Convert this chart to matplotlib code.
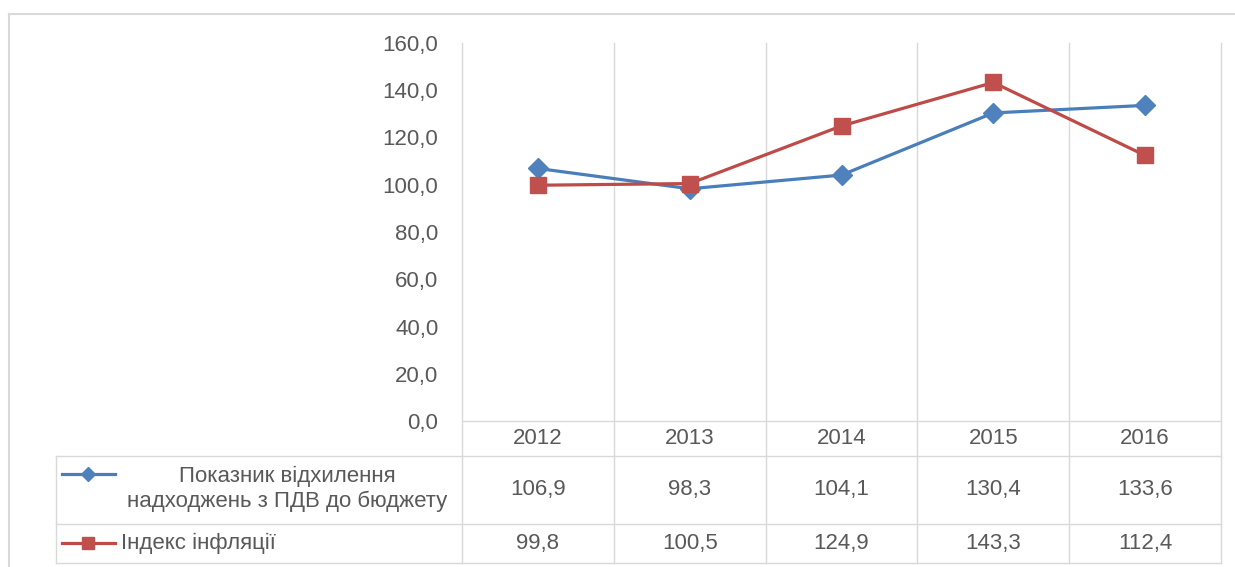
import matplotlib.pyplot as plt
from matplotlib.lines import Line2D
from matplotlib.transforms import blended_transform_factory

plt.rcParams['font.family'] = ['Liberation Sans Narrow', 'Liberation Sans', 'DejaVu Sans']

years = ['2012', '2013', '2014', '2015', '2016']
vat_deviation = [106.9, 98.3, 104.1, 130.4, 133.6]
inflation_index = [99.8, 100.5, 124.9, 143.3, 112.4]
vat_label = 'Показник відхилення\nнадходжень з ПДВ до бюджету'
inflation_label = 'Індекс інфляції'
yticks = [0, 20, 40, 60, 80, 100, 120, 140, 160]

W, H = 1235, 567
blue = '#4A7EBB'
red = '#BE4B48'
grid_c = '#D9D9D9'
text_c = '#595959'
fs = 16


def fy(py):
    # pixel row from top -> figure fraction
    return 1 - py / H


fig = plt.figure(figsize=(W / 100, H / 100), dpi=100)

# outer chart frame (top and left edges visible)
fig.add_artist(Line2D([9 / W, 1], [fy(14), fy(14)], color=grid_c, lw=1.5))
fig.add_artist(Line2D([9 / W, 9 / W], [fy(14), 0], color=grid_c, lw=1.5))

x0, x1 = 462, 1221
ytop, ybot = 43, 421
ax = fig.add_axes([x0 / W, fy(ybot), (x1 - x0) / W, (ybot - ytop) / H])

x = list(range(len(years)))
ax.plot(x, vat_deviation, color=blue, lw=2.3, marker='D', ms=10,
        markerfacecolor='#4F81BD', markeredgecolor='#4F81BD', zorder=3)
ax.plot(x, inflation_index, color=red, lw=2.3, marker='s', ms=12,
        markerfacecolor='#C0504D', markeredgecolor='#C0504D', zorder=3)

ax.set_xlim(-0.5, len(years) - 0.5)
ax.set_ylim(0, 160)
ax.set_yticks(yticks)
ax.set_yticklabels([f'{v:.1f}'.replace('.', ',') for v in yticks],
                   fontsize=fs, color=text_c)
ax.tick_params(axis='y', length=0, pad=17)
ax.set_xticks([])
for s in ['top', 'left', 'right', 'bottom']:
    ax.spines[s].set_visible(False)

# data table drawn under the plot, columns tied to the category axis
tr = blended_transform_factory(ax.transData, fig.transFigure)
bounds = [i - 0.5 for i in range(len(years) + 1)]
for b in bounds:
    ax.add_line(Line2D([b, b], [fy(563), fy(ytop)], transform=tr,
                       color=grid_c, lw=1, clip_on=False, zorder=1))

row_lines = [421, 456, 524, 563]
for i, ry in enumerate(row_lines):
    left = 56 / W if i > 0 else x0 / W
    fig.add_artist(Line2D([left, x1 / W], [fy(ry), fy(ry)], color=grid_c, lw=1))
fig.add_artist(Line2D([56 / W, 56 / W], [fy(456), fy(563)], color=grid_c, lw=1))

for i, yr in enumerate(years):
    ax.text(i, fy(438), yr, transform=tr, ha='center', va='center',
            fontsize=fs, color=text_c)
    ax.text(i, fy(490), f'{vat_deviation[i]:.1f}'.replace('.', ','), transform=tr,
            ha='center', va='center', fontsize=fs, color=text_c)
    ax.text(i, fy(544), f'{inflation_index[i]:.1f}'.replace('.', ','), transform=tr,
            ha='center', va='center', fontsize=fs, color=text_c)

# legend keys in the table
fig.add_artist(Line2D([62 / W, 115 / W], [fy(474), fy(474)], color=blue, lw=2.3))
fig.add_artist(Line2D([88 / W], [fy(474)], color='#4F81BD', marker='D', ms=7, lw=0))
fig.add_artist(Line2D([62 / W, 115 / W], [fy(543), fy(543)], color=red, lw=2.3))
fig.add_artist(Line2D([88 / W], [fy(543)], color='#C0504D', marker='s', ms=9, lw=0))

fig.text(287 / W, fy(489), vat_label, ha='center', va='center',
         fontsize=fs, color=text_c, linespacing=1.2)
fig.text(121 / W, fy(543), inflation_label, ha='left', va='center',
         fontsize=fs, color=text_c)

plt.savefig('out.png', dpi=100)
